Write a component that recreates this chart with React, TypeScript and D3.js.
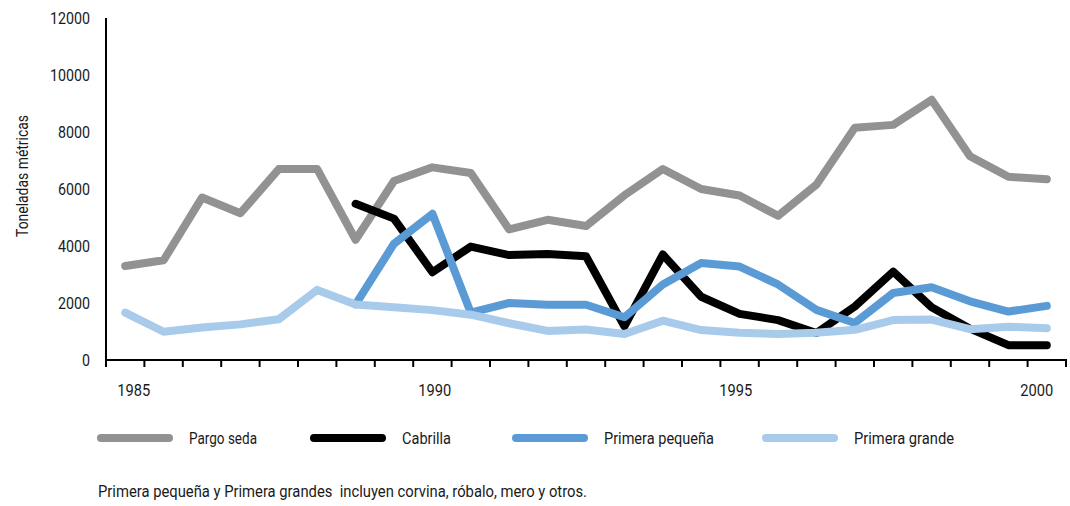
import React from "react";
import * as d3 from "d3";

// 25 periods shown on the category axis
const periods: string[] = [
  "p01","p02","p03","p04","p05","p06","p07","p08","p09","p10","p11","p12","p13",
  "p14","p15","p16","p17","p18","p19","p20","p21","p22","p23","p24","p25",
];
const yearLabels: number[] = [1985, 1990, 1995, 2000];
const yTicks: number[] = [0, 2000, 4000, 6000, 8000, 10000, 12000];

const pargoSeda: (number | null)[] = [
  3300, 3500, 5700, 5150, 6700, 6700, 4220, 6280, 6760, 6560, 4580, 4920, 4700,
  5780, 6700, 6000, 5770, 5060, 6150, 8150, 8250, 9130, 7150, 6430, 6340,
];
const cabrilla: (number | null)[] = [
  null, null, null, null, null, null, 5480, 4960, 3080, 3980, 3680, 3720, 3640,
  1180, 3700, 2220, 1620, 1400, 950, 1880, 3100, 1850, 1100, 520, 520,
];
const primeraPequena: (number | null)[] = [
  null, null, null, null, null, null, 1950, 4080, 5130, 1660, 2000, 1940, 1940,
  1500, 2650, 3400, 3280, 2650, 1760, 1300, 2350, 2550, 2060, 1700, 1900,
];
const primeraGrande: (number | null)[] = [
  1660, 990, 1140, 1250, 1430, 2460, 1950, 1850, 1750, 1590, 1290, 1020, 1070,
  910, 1380, 1050, 960, 910, 960, 1060, 1400, 1420, 1080, 1170, 1110,
];

const seriesNames = ["Pargo seda", "Cabrilla", "Primera pequeña", "Primera grande"];
const seriesColors = ["#929292", "#000000", "#5b9bd5", "#a8cbeb"];
const seriesData = [pargoSeda, cabrilla, primeraPequena, primeraGrande];
const footnote = "Primera pequeña y Primera grandes  incluyen corvina, róbalo, mero y otros.";

const FONT = "Roboto, 'DejaVu Sans Condensed', sans-serif";
const TEXT_COLOR = "#1a1a1a";

// condensed look: widths of the condensed face of the original
const legendTextW = [68, 49, 110, 100];

export default function App() {
  const W = 1070, H = 506;
  const left = 106, right = 1066, top = 18, bottom = 360;

  const x = d3.scaleBand<string>().domain(periods).range([left, right]).paddingInner(0).paddingOuter(0);
  const xc = (i: number) => (x(periods[i]) as number) + x.bandwidth() / 2;
  const y = d3.scaleLinear().domain([0, 12000]).range([bottom, top]);
  const xYear = d3.scaleLinear().domain([1985, 2000]).range([xc(0) + 8.5, xc(24) - 10]);

  const line = d3.line<number | null>()
    .defined((d) => d !== null)
    .x((_, i) => xc(i))
    .y((d) => y(d as number));

  const tickXs = periods.map((p) => x(p) as number).concat([right]);

  const legendBarX = [97, 310, 512, 762];
  const legendBarW = 76;
  const legendY = 438;

  return (
    <svg width={W} height={H} style={{ position: "absolute", left: 0, top: 0, background: "#fff" }}
      fontFamily={FONT}>
      {/* y tick labels */}
      {yTicks.map((t) => (
        <text key={t} x={90} y={y(t)} dy="0.35em" textAnchor="end" fontSize={16} fill={TEXT_COLOR}
          textLength={8 * String(t).length} lengthAdjust="spacingAndGlyphs">{t}</text>
      ))}
      <text transform={`translate(28,176) rotate(-90)`} textAnchor="middle" fontSize={16} fill={TEXT_COLOR}
        textLength={122} lengthAdjust="spacingAndGlyphs">
        Toneladas métricas
      </text>

      {/* series */}
      {seriesData.map((s, k) => (
        <path key={k} d={line(s) || ""} fill="none" stroke={seriesColors[k]} strokeWidth={8}
          strokeLinejoin="round" strokeLinecap="round" />
      ))}

      {/* axes */}
      <line x1={left} x2={left} y1={top} y2={bottom} stroke="#000" strokeWidth={2} />
      <line x1={left - 1} x2={right + 1} y1={bottom} y2={bottom} stroke="#000" strokeWidth={2} />
      {tickXs.map((tx, i) => (
        <line key={i} x1={tx} x2={tx} y1={bottom} y2={bottom + 7} stroke="#000" strokeWidth={2} />
      ))}
      {yearLabels.map((yr) => (
        <text key={yr} x={xYear(yr)} y={390} dy="0.35em" textAnchor="middle" fontSize={16} fill={TEXT_COLOR}
          textLength={33} lengthAdjust="spacingAndGlyphs">{yr}</text>
      ))}

      {/* legend */}
      {seriesNames.map((n, k) => (
        <g key={n}>
          <line x1={legendBarX[k] + 4} x2={legendBarX[k] + legendBarW - 4} y1={legendY} y2={legendY}
            stroke={seriesColors[k]} strokeWidth={8} strokeLinecap="round" />
          <text x={legendBarX[k] + legendBarW + 16} y={legendY} dy="0.35em" fontSize={16} fill={TEXT_COLOR}
            textLength={legendTextW[k]} lengthAdjust="spacingAndGlyphs">{n}</text>
        </g>
      ))}

      <text x={98} y={491} dy="0.35em" fontSize={16} fill={TEXT_COLOR} xmlSpace="preserve"
        textLength={489} lengthAdjust="spacingAndGlyphs">
        {footnote}
      </text>
    </svg>
  );
}
